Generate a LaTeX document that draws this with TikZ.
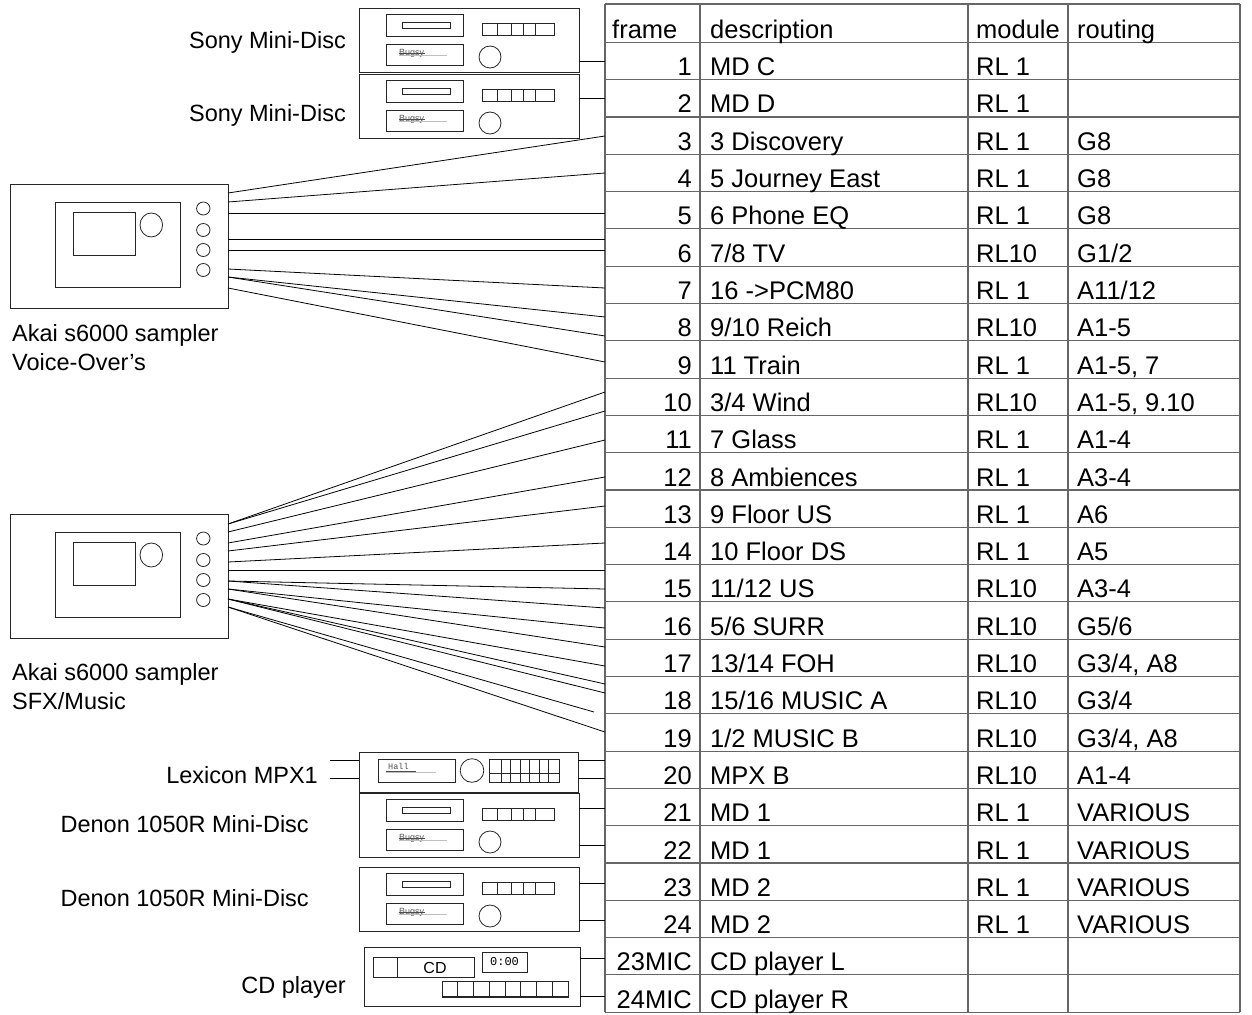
\documentclass[tikz,border=0pt]{standalone}
\usepackage{fontspec}
\setmainfont{Liberation Sans}
\newfontfamily\monof{Liberation Mono}
\tikzset{
  dev/.style={draw=black!85, line width=0.8pt},
  wire/.style={draw=black, line width=0.8pt},
  tgrid/.style={draw=black!60, line width=1.1pt},
  tt/.style={font=\fontsize{25.5}{30}\selectfont, inner sep=0pt},
  lab/.style={font=\fontsize{23.5}{28}\selectfont, inner sep=0pt},
  tinytxt/.style={font=\fontsize{9}{10}\selectfont, text=black!65, inner sep=0pt},
}
\newcommand\mdunit[3]{%
  \begin{scope}[shift={(#2,#3)}]
    \draw[dev] (0,0) rectangle (220,64);
    \draw[dev] (27,6) rectangle (104,28);
    \draw[dev] (43,14) rectangle (91,20);
    \draw[dev] (27,36) rectangle (104,57);
    \node[tinytxt, anchor=west] (#1bug) at (40,45) {Bugsy};
    \draw[black!70, line width=0.6pt] (40,45.5) -- (66,45.5);
    \draw[black!25, line width=0.8pt] (40,47) -- (88,47);
    \draw[dev] (131,49) circle (11);
    \draw[dev] (123,15) rectangle (195,27);
    \foreach \xx in {138.7,152.7,164.3,176.7} \draw[dev] (\xx,15) -- (\xx,27);
  \end{scope}}
\newcommand\akaiunit[2]{%
  \begin{scope}[shift={(#1,#2)}]
    \draw[dev] (0,0) rectangle (218,124);
    \draw[dev] (45,18.3) rectangle (170.3,103.3);
    \draw[dev] (63.3,28.7) rectangle (125.3,71.3);
    \draw[dev] (141.3,41) ellipse [x radius=11.3, y radius=12];
    \foreach \yy in {24.5,46,66,86} \draw[dev] (193.3,\yy) ellipse [x radius=6.7, y radius=6.5];
  \end{scope}}
\newcommand\myrow[5]{%
  \pgfmathsetmacro\rb{38.4+#1*37.3}%
  \node[tt, anchor=base east] (fr#1) at (692,\rb) {#2};%
  \node[tt, anchor=base west] (de#1) at (710,\rb) {#3};%
  \if\relax\detokenize{#4}\relax\else\node[tt, anchor=base west] (mo#1) at (976,\rb) {#4};\fi
  \if\relax\detokenize{#5}\relax\else\node[tt, anchor=base west] (ro#1) at (1077,\rb) {#5};\fi
}
\begin{document}
\begin{tikzpicture}[x=1pt,y=-1pt]
\fill[white] (0,0) rectangle (1252,1014);
\useasboundingbox (0,0) rectangle (1252,1014);

% ---------- table grid ----------
\foreach \x in {605,700,968,1068,1240} \draw[tgrid] (\x,4) -- (\x,1012.2);
\draw[tgrid] (605,4) -- (1240,4);
\foreach \k in {0,...,26} {
  \pgfmathsetmacro\yy{42.4+\k*37.3}
  \draw[tgrid] (605,\yy) -- (1240,\yy);
}

% ---------- header ----------
\node[tt, anchor=base west] (hfr) at (612,38.5) {frame};
\node[tt, anchor=base west] (hde) at (710,38.5) {description};
\node[tt, anchor=base west] (hmo) at (976,38.5) {module};
\node[tt, anchor=base west] (hro) at (1077,38.5) {routing};

% ---------- rows ----------
\myrow{1}{1}{MD C}{RL 1}{}
\myrow{2}{2}{MD D}{RL 1}{}
\myrow{3}{3}{3 Discovery}{RL 1}{G8}
\myrow{4}{4}{5 Journey East}{RL 1}{G8}
\myrow{5}{5}{6 Phone EQ}{RL 1}{G8}
\myrow{6}{6}{7/8 TV}{RL10}{G1/2}
\myrow{7}{7}{16 ->PCM80}{RL 1}{A11/12}
\myrow{8}{8}{9/10 Reich}{RL10}{A1-5}
\myrow{9}{9}{11 Train}{RL 1}{A1-5, 7}
\myrow{10}{10}{3/4 Wind}{RL10}{A1-5, 9.10}
\myrow{11}{11}{7 Glass}{RL 1}{A1-4}
\myrow{12}{12}{8 Ambiences}{RL 1}{A3-4}
\myrow{13}{13}{9 Floor US}{RL 1}{A6}
\myrow{14}{14}{10 Floor DS}{RL 1}{A5}
\myrow{15}{15}{11/12 US}{RL10}{A3-4}
\myrow{16}{16}{5/6 SURR}{RL10}{G5/6}
\myrow{17}{17}{13/14 FOH}{RL10}{G3/4, A8}
\myrow{18}{18}{15/16 MUSIC A}{RL10}{G3/4}
\myrow{19}{19}{1/2 MUSIC B}{RL10}{G3/4, A8}
\myrow{20}{20}{MPX B}{RL10}{A1-4}
\myrow{21}{21}{MD 1}{RL 1}{VARIOUS}
\myrow{22}{22}{MD 1}{RL 1}{VARIOUS}
\myrow{23}{23}{MD 2}{RL 1}{VARIOUS}
\myrow{24}{24}{MD 2}{RL 1}{VARIOUS}
\myrow{25}{23MIC}{CD player L}{}{}
\myrow{26}{24MIC}{CD player R}{}{}

% ---------- devices ----------
\mdunit{sonya}{359}{8}
\mdunit{sonyb}{359}{74}
\mdunit{denona}{359}{793}
\mdunit{denonb}{359}{867}
\akaiunit{10}{184}
\akaiunit{10}{514}

% Lexicon MPX1
\draw[dev] (359,752) rectangle (578,792);
\draw[dev] (378,759) rectangle (455,782);
\node[font=\monof\fontsize{8.5}{9}\selectfont, text=black!70, inner sep=0pt, anchor=west] (hall) at (388,766) {Hall};
\draw[black!70, line width=0.6pt] (386,771) -- (416,771);
\draw[black!25, line width=0.8pt] (386,772.5) -- (436,772.5);
\draw[dev] (472,770.5) circle (11.8);
\draw[dev] (489,759) rectangle (559,782);
\draw[dev] (489,773) -- (559,773);
\foreach \xx in {501,510.7,520,529.3,539,548.7} \draw[dev] (\xx,759) -- (\xx,782);

% CD player
\draw[dev] (364,947) rectangle (580,1006);
\draw[dev] (373,957) rectangle (474,977);
\draw[dev] (397,957) -- (397,977);
\node[font=\fontsize{16}{18}\selectfont, inner sep=0pt] (cdt) at (435,968) {CD};
\draw[dev] (482,952) rectangle (527,972);
\node[font=\monof\fontsize{12}{13}\selectfont, inner sep=0pt] (cdtime) at (504.5,962) {0:00};
\draw[dev] (442,981) rectangle (568,997);
\foreach \i in {1,...,7} {\pgfmathsetmacro\xx{442+\i*15.75} \draw[dev] (\xx,981) -- (\xx,997);}
\draw[dev, line width=1.4pt] (442,997) -- (568,997);

% ---------- labels ----------
\node[lab, anchor=base east] (lsa) at (346,48.5) {Sony Mini-Disc};
\node[lab, anchor=base east] (lsb) at (346,121.5) {Sony Mini-Disc};
\node[lab, anchor=base west] (la1) at (12,341.5) {Akai s6000 sampler};
\node[lab, anchor=base west] (la1b) at (12,370.5) {Voice-Over’s};
\node[lab, anchor=base west] (la2) at (12,680.5) {Akai s6000 sampler};
\node[lab, anchor=base west] (la2b) at (12,709.5) {SFX/Music};
\node[lab, anchor=base east] (llx) at (318,783.5) {Lexicon MPX1};
\node[lab, anchor=base east] (lda) at (309,832.5) {Denon 1050R Mini-Disc};
\node[lab, anchor=base east] (ldb) at (309,906.5) {Denon 1050R Mini-Disc};
\node[lab, anchor=base east] (lcd) at (346,993.5) {CD player};

% ---------- connectors ----------
\foreach \n/\xa/\y in {s1/579/61, s2/579/98, lr1/578/760, lr2/578/778, da1/579/808, da2/579/845, db1/579/883, db2/579/920, cd1/580/958, cd2/580/996} {
  \coordinate (\n-o) at (\xa,\y);
  \coordinate (\n-t) at (605,\y);
  \draw[wire] (\n-o) -- (\n-t);
}
\foreach \n/\y in {1/760, 2/778} {
  \coordinate (lxin\n-a) at (330,\y);
  \coordinate (lxin\n-b) at (359,\y);
  \draw[wire] (lxin\n-a) -- (lxin\n-b);
}
\foreach \n/\ys/\ye in {1/193/136, 2/202/173, 3/213/213, 4/239/239, 5/250/250, 6/269/288, 7/277/317, 8/277/336, 9/288/362} {
  \coordinate (va\n) at (228,\ys);
  \coordinate (vb\n) at (605,\ye);
  \draw[wire] (va\n) -- (vb\n);
}
\foreach \n/\ys/\xe/\ye in {1/524/605/392, 2/524/605/411, 3/532/605/440, 4/543/605/477, 5/551/605/506, 6/562/605/543, 7/570/605/570, 8/581/605/589, 9/581/605/608, 10/589/605/628, 11/589/605/647, 12/599/605/666, 13/599/605/684, 14/599/605/693, 15/607/594/712, 16/607/605/732} {
  \coordinate (sa\n) at (228,\ys);
  \coordinate (sb\n) at (\xe,\ye);
  \draw[wire] (sa\n) -- (sb\n);
}
\end{tikzpicture}
\end{document}
